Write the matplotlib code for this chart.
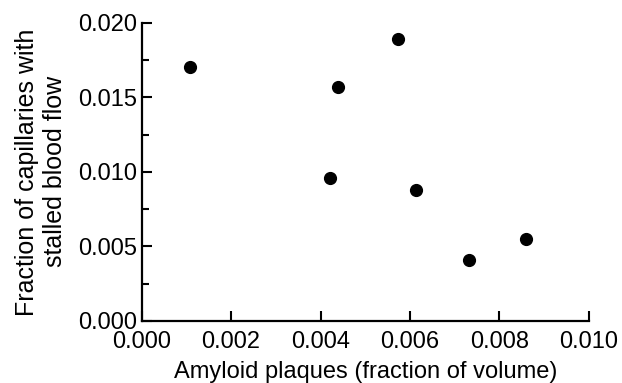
import numpy as np
import matplotlib
matplotlib.use("Agg")
import matplotlib.pyplot as plt
from matplotlib.ticker import MultipleLocator, FormatStrFormatter

# amyloid plaque fraction vs stalled capillary fraction
plaques = [0.00108, 0.00573, 0.00439, 0.00421, 0.00613, 0.00732, 0.00860]
stalled = [0.01705, 0.01889, 0.01567, 0.00957, 0.00880, 0.00407, 0.00552]

plt.rcParams['font.family'] = ['Liberation Sans', 'DejaVu Sans']

fig = plt.figure(figsize=(6.22, 3.83), dpi=100)
ax = fig.add_axes([0.2278, 0.1619, 0.9465 - 0.2278, 0.9407 - 0.1619])

ax.scatter(plaques, stalled, s=72, color="black", zorder=3, clip_on=False)

ax.set_xlim(0, 0.010)
ax.set_ylim(0, 0.020)
ax.xaxis.set_major_locator(MultipleLocator(0.002))
ax.yaxis.set_major_locator(MultipleLocator(0.005))
ax.yaxis.set_minor_locator(MultipleLocator(0.0025))
ax.xaxis.set_major_formatter(FormatStrFormatter("%.3f"))
ax.yaxis.set_major_formatter(FormatStrFormatter("%.3f"))

for s in ["top", "right"]:
    ax.spines[s].set_visible(False)
for s in ["left", "bottom"]:
    ax.spines[s].set_linewidth(1.6)

ax.tick_params(axis="both", which="major", direction="in", length=7.5, width=1.5, labelsize=17)
ax.tick_params(axis="y", which="minor", direction="in", length=5, width=1.5)
ax.tick_params(axis="y", which="major", pad=3)
ax.tick_params(axis="x", which="major", pad=7.5)

ax.set_xlabel("Amyloid plaques (fraction of volume)", fontsize=17, labelpad=5.5)
ax.set_ylabel("Fraction of capillaries with\nstalled blood flow", fontsize=18, labelpad=8, linespacing=1.25)

fig.savefig("out.png", dpi=100)
